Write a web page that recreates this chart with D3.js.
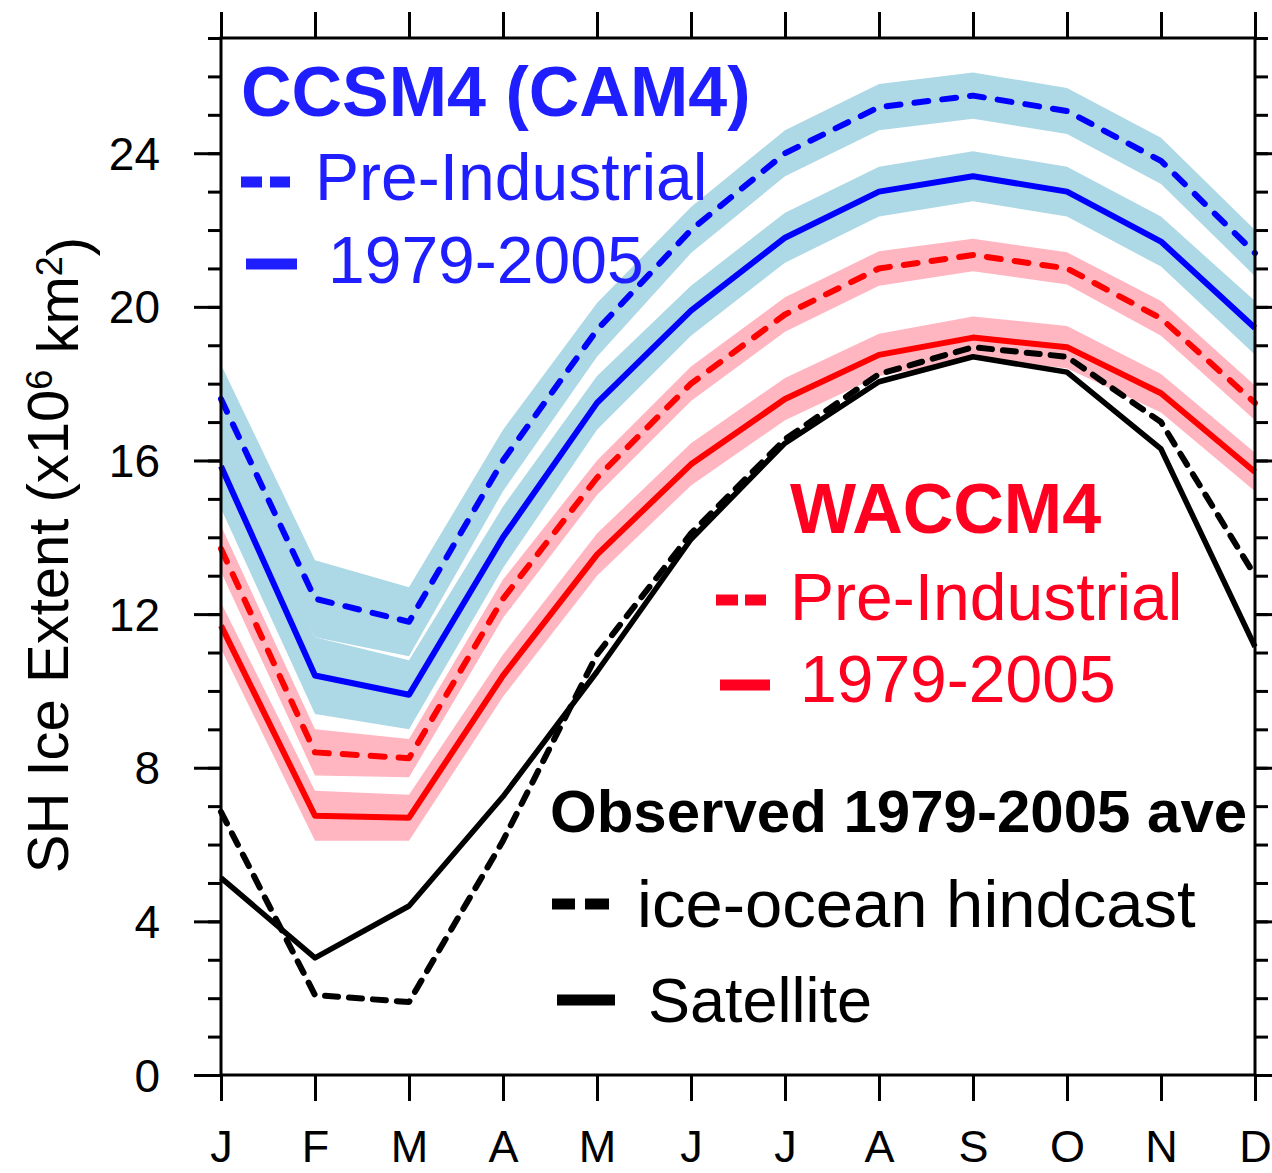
<!DOCTYPE html>
<html>
<head>
<meta charset="utf-8">
<script src="https://cdn.jsdelivr.net/npm/d3@7"></script>
<style>
  html, body { margin: 0; padding: 0; background: #fff; }
  svg { display: block; font-family: "Liberation Sans", Arial, Helvetica, sans-serif; }
</style>
</head>
<body>
<svg id="chart" width="1272" height="1173"></svg>
<script>
// ---- data (millions of km^2) ----
const months = ["J","F","M","A","M","J","J","A","S","O","N","D"];
const yTicks = [0, 4, 8, 12, 16, 20, 24];

const ccsmPI     = [17.6, 12.4, 11.8, 16.0, 19.4, 22.0, 24.0, 25.2, 25.5, 25.1, 23.8, 21.4];
const ccsmPISpread = [0.9, 1.0, 0.9, 0.8, 0.7, 0.6, 0.6, 0.6, 0.6, 0.6, 0.6, 0.6];
const ccsm20C    = [15.85, 10.4, 9.9, 14.0, 17.5, 19.9, 21.8, 23.0, 23.4, 23.0, 21.7, 19.45];
const ccsm20CSpread = [1.1, 1.0, 0.9, 0.8, 0.7, 0.65, 0.65, 0.65, 0.65, 0.65, 0.65, 0.7];
const waccmPI    = [13.7, 8.4, 8.25, 12.4, 15.55, 18.0, 19.8, 21.0, 21.35, 21.0, 19.7, 17.5];
const waccmPISpread = [0.6, 0.6, 0.5, 0.5, 0.45, 0.45, 0.45, 0.45, 0.42, 0.42, 0.45, 0.45];
const waccm20C   = [11.7, 6.75, 6.7, 10.4, 13.55, 15.9, 17.6, 18.75, 19.2, 18.95, 17.75, 15.7];
const waccm20CSpread = [0.6, 0.65, 0.6, 0.55, 0.55, 0.55, 0.55, 0.55, 0.55, 0.55, 0.5, 0.5];
const hindcast   = [6.85, 2.08, 1.9, 6.1, 10.95, 14.1, 16.55, 18.25, 18.95, 18.7, 17.0, 13.0];
const satellite  = [5.13, 3.05, 4.4, 7.25, 10.5, 13.95, 16.45, 18.05, 18.7, 18.3, 16.3, 11.15];

// ---- layout ----
const svg = d3.select("#chart");
const L = 221, R = 1255, T = 38, B = 1075;
const x = d3.scaleLinear().domain([0, 11]).range([L, R]);
const y = d3.scaleLinear().domain([0, 27]).range([B, T]);

const lightBlue = "#add8e6", pink = "#ffb6c1";
const blue = "#0000ff", red = "#ff0000";

const g = svg.append("g");

function band(vals, spread, color) {
  const area = d3.area()
    .x((d, i) => x(i))
    .y0((d, i) => y(d - spread[i]))
    .y1((d, i) => y(d + spread[i]));
  g.append("path").datum(vals).attr("d", area).attr("fill", color).attr("stroke", "none");
}
function line(vals, color, width, dash) {
  const ln = d3.line().x((d, i) => x(i)).y(d => y(d));
  const p = g.append("path").datum(vals).attr("d", ln)
    .attr("fill", "none").attr("stroke", color).attr("stroke-width", width)
    .attr("stroke-linejoin", "round");
  if (dash) p.attr("stroke-dasharray", dash).attr("stroke-linecap", "round");
}

band(ccsmPI, ccsmPISpread, lightBlue);
band(ccsm20C, ccsm20CSpread, lightBlue);
band(waccmPI, waccmPISpread, pink);
band(waccm20C, waccm20CSpread, pink);

line(ccsmPI, blue, 6, "14,14");
line(ccsm20C, blue, 6, null);
line(waccmPI, red, 6, "14,14");
line(waccm20C, red, 6, null);
line(hindcast, "#000", 6, "13,11");
line(satellite, "#000", 5.5, null);

// ---- axes ----
const axW = 3;
const xMajor = d3.range(0, 12);
const yMinor = d3.range(0, 28);

const axL = svg.append("g").attr("transform", `translate(${L},0)`)
  .call(d3.axisLeft(y).tickValues(yMinor).tickSize(13).tickFormat(""));
const axLmaj = svg.append("g").attr("transform", `translate(${L},0)`)
  .call(d3.axisLeft(y).tickValues(yTicks).tickSize(27).tickPadding(34).tickFormat(d3.format("d")));
const axR = svg.append("g").attr("transform", `translate(${R},0)`)
  .call(d3.axisRight(y).tickValues(yMinor).tickSize(13).tickFormat(""));
const axRmaj = svg.append("g").attr("transform", `translate(${R},0)`)
  .call(d3.axisRight(y).tickValues(yTicks).tickSize(27).tickFormat(""));
const axB = svg.append("g").attr("transform", `translate(0,${B})`)
  .call(d3.axisBottom(x).tickValues(xMajor).tickSize(26).tickPadding(29).tickFormat(i => months[i]));
const axT = svg.append("g").attr("transform", `translate(0,${T})`)
  .call(d3.axisTop(x).tickValues(xMajor).tickSize(26).tickFormat(""));

[axL, axLmaj, axR, axRmaj, axB, axT].forEach(a => {
  a.selectAll(".domain").remove();
  a.selectAll("line").attr("stroke", "#000").attr("stroke-width", axW);
  a.selectAll("text").attr("fill", "#000").style("font-size", "46px")
    .style("font-family", '"Liberation Sans", Arial, sans-serif');
});
axLmaj.selectAll("text").attr("dy", "0.35em");
axB.selectAll("text").attr("dy", "0.71em").style("font-size", "45px");

svg.append("rect").attr("x", L).attr("y", T).attr("width", R - L).attr("height", B - T)
  .attr("fill", "none").attr("stroke", "#000").attr("stroke-width", axW);

// ---- y-axis title ----
const yt = svg.append("text")
  .attr("transform", `translate(68,555) rotate(-90)`)
  .attr("text-anchor", "middle")
  .style("font-size", "58px").attr("fill", "#000");
yt.append("tspan").text("SH Ice Extent (x10");
yt.append("tspan").attr("dy", "-0.45em").style("font-size", "36px").text("6");
yt.append("tspan").attr("dy", "0.45em").text(" km");
yt.append("tspan").attr("dy", "-0.45em").style("font-size", "36px").text("2");
yt.append("tspan").attr("dy", "0.45em").text(")");

// ---- legends ----
const txtBlue = "#1e1eff", txtRed = "#ff0020";
function txt(s, xx, yy, size, color, bold) {
  svg.append("text").attr("x", xx).attr("y", yy).text(s)
    .attr("fill", color).style("font-size", size + "px")
    .style("font-weight", bold ? "bold" : "normal");
}
function bar(x1, x2, yy, color) {
  svg.append("line").attr("x1", x1).attr("x2", x2).attr("y1", yy).attr("y2", yy)
    .attr("stroke", color).attr("stroke-width", 11);
}

txt("CCSM4 (CAM4)", 241, 116, 70, txtBlue, true);
bar(241, 262, 182, txtBlue); bar(270, 290, 182, txtBlue);
txt("Pre-Industrial", 315, 200, 66, txtBlue, false);
bar(246, 297, 264, txtBlue);
txt("1979-2005", 328, 283, 66, txtBlue, false);

txt("WACCM4", 790, 533, 70, txtRed, true);
bar(716, 738, 600, txtRed); bar(745, 766, 600, txtRed);
txt("Pre-Industrial", 790, 620, 66, txtRed, false);
bar(720, 770, 685, txtRed);
txt("1979-2005", 800, 702, 66, txtRed, false);

txt("Observed 1979-2005 ave", 550, 832, 60, "#000", true);
bar(552, 575, 904, "#000"); bar(585, 609, 904, "#000");
txt("ice-ocean hindcast", 637, 927, 67, "#000", false);
bar(557, 615, 1000, "#000");
txt("Satellite", 648, 1022, 63, "#000", false);
</script>
</body>
</html>
